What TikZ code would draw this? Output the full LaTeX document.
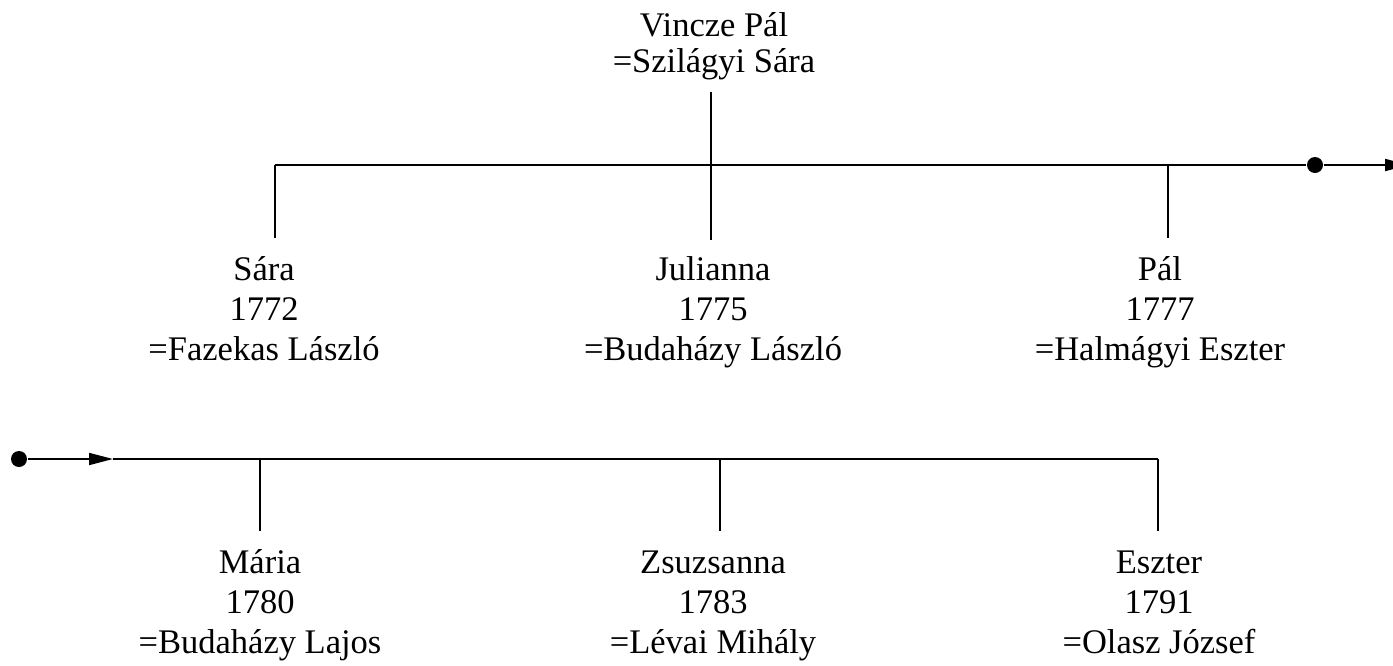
\documentclass[tikz,border=0pt]{standalone}
\usepackage{fontspec}
\setmainfont{Liberation Serif}
\usetikzlibrary{arrows.meta}
\begin{document}
\begin{tikzpicture}[x=1pt,y=-1pt,line width=1.8pt,
  person/.style={anchor=base,align=center,inner sep=0pt,font=\fontsize{34.5}{40}\selectfont},
  headperson/.style={person,font=\fontsize{34.5}{36}\selectfont},
  dot/.style={circle,fill=black,inner sep=0pt,minimum size=16pt},
  tip/.style={-{Triangle[length=24pt,width=12pt]}}]
\useasboundingbox (0,0) rectangle (1393,665);
\clip (0,0) rectangle (1393,665);
% head
\node[headperson] (head) at (714,72) {Vincze Pál\\=Szilágyi Sára};
\coordinate (headstem) at (711,92);
% upper generation bar
\coordinate (ubarL) at (275,165);
\coordinate (ubarM) at (711,165);
\coordinate (ubarR) at (1168,165);
\node[dot] (udot) at (1315,165) {};
\coordinate (uarrow) at (1409,165);
\coordinate (sarastem) at (275,238);
\coordinate (julstem) at (711,240);
\coordinate (palstem) at (1168,238);
\node[person] (sara) at (264,360) {Sára\\1772\\=Fazekas László};
\node[person] (julianna) at (713,360) {Julianna\\1775\\=Budaházy László};
\node[person] (pal) at (1160,360) {Pál\\1777\\=Halmágyi Eszter};
\draw (ubarL) -- (udot);
\draw[tip] (udot) -- (uarrow);
\draw (headstem) -- (julstem);
\draw (ubarL) -- (sarastem);
\draw (ubarR) -- (palstem);
% lower generation bar
\node[dot] (ldot) at (19,459) {};
\coordinate (larrow) at (113,459);
\coordinate (lbarL) at (260,459);
\coordinate (lbarM) at (720,459);
\coordinate (lbarR) at (1158,459);
\coordinate (mariastem) at (260,531);
\coordinate (zsustem) at (720,531);
\coordinate (eszstem) at (1158,531);
\node[person] (maria) at (260,653) {Mária\\1780\\=Budaházy Lajos};
\node[person] (zsuzsanna) at (713,653) {Zsuzsanna\\1783\\=Lévai Mihály};
\node[person] (eszter) at (1159,653) {Eszter\\1791\\=Olasz József};
\draw[tip] (ldot) -- (larrow);
\draw (larrow) -- (lbarR);
\draw (lbarL) -- (mariastem);
\draw (lbarM) -- (zsustem);
\draw (lbarR) -- (eszstem);
\end{tikzpicture}
\end{document}
